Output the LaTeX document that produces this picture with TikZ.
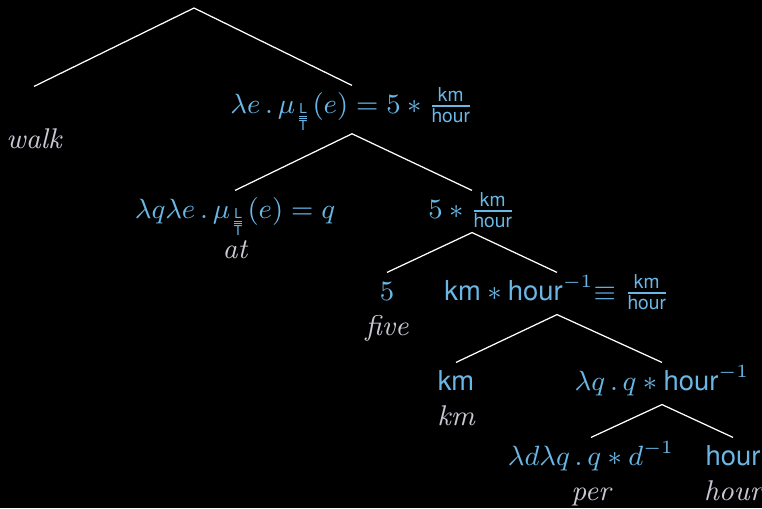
\documentclass[tikz,border=0pt]{standalone}
\usepackage{amsmath}
\usepackage{fontspec}
\setsansfont{TeX Gyre Heros}[Scale=0.96]
\usetikzlibrary{positioning}

\definecolor{semblue}{RGB}{106,183,230}
\definecolor{wordgrey}{RGB}{200,200,212}

% L over T with a double rule
\newcommand{\LperT}{\genfrac{}{}{0.3pt}{}{\textsf{L}}{\overline{\textsf{T}}}}
\newcommand{\kmh}{\frac{\textsf{km}}{\textsf{hour}}}
\newcommand{\treesize}{\fontsize{9.2}{11}\selectfont}

\tikzset{
  sem/.style={text=semblue, font=\treesize, anchor=base, inner sep=0pt, text height=8.7pt, text depth=4.5pt},
  word/.style={text=wordgrey, font=\treesize\itshape, anchor=base, inner sep=0pt},
  branch/.style={draw=white, line width=0.4pt}
}

\begin{document}
\begin{tikzpicture}[x=0.3226pt,y=-0.3226pt]
        \fill[black] (0,0) rectangle (762,508);
        \useasboundingbox (0,0) rectangle (762,508);

        \coordinate (root) at (194,8);

        % meanings
        \node[sem] (n0) at (34,114) {};
        \node[sem, text depth=6.5pt] (n1) at (352,113) {$\lambda e\,.\,\mu_{\LperT}(e) = 5 * \kmh$};
        \node[sem] (n2) at (235,218) {$\lambda q\lambda e\,.\,\mu_{\LperT}(e) = q$};
        \node[sem] (n3) at (472,218) {$5 * \kmh$};
        \node[sem] (n4) at (387,300) {$5$};
        \node[sem] (n5) at (557,300) {$\textsf{km} * \textsf{hour}^{-1}{\equiv}\;\kmh$};
        \node[sem] (n6) at (456,390) {$\textsf{km}$};
        \node[sem] (n7) at (662,390) {$\lambda q\,.\,q * \textsf{hour}^{-1}$};
        \node[sem] (n8) at (591,465) {$\lambda d\lambda q\,.\,q * d^{-1}$};
        \node[sem] (n9) at (733,465) {$\textsf{hour}$};

        % words
        \node[word] (w0) at ([yshift=-11pt]n0.base) {walk};
        \node[word] (w2) at ([yshift=-13.2pt]n2.base) {at};
        \node[word] (w4) at ([yshift=-11.6pt]n4.base) {five};
        \node[word] (w6) at ([yshift=-11.6pt]n6.base) {km};
        \node[word] (w8) at ([yshift=-11.6pt]n8.base) {per};
        \node[word] (w9) at ([yshift=-11.6pt]n9.base) {hour};

        % branches
        \draw[branch] (root) -- (n0.north);
        \draw[branch] (root) -- (n1.north);
        \draw[branch] (n2.north) -- (n1.south) -- (n3.north);
        \draw[branch] (n4.north) -- (n3.south) -- (n5.north);
        \draw[branch] (n6.north) -- (n5.south) -- (n7.north);
        \draw[branch] (n8.north) -- (n7.south) -- (n9.north);
    \end{tikzpicture}
\end{document}
